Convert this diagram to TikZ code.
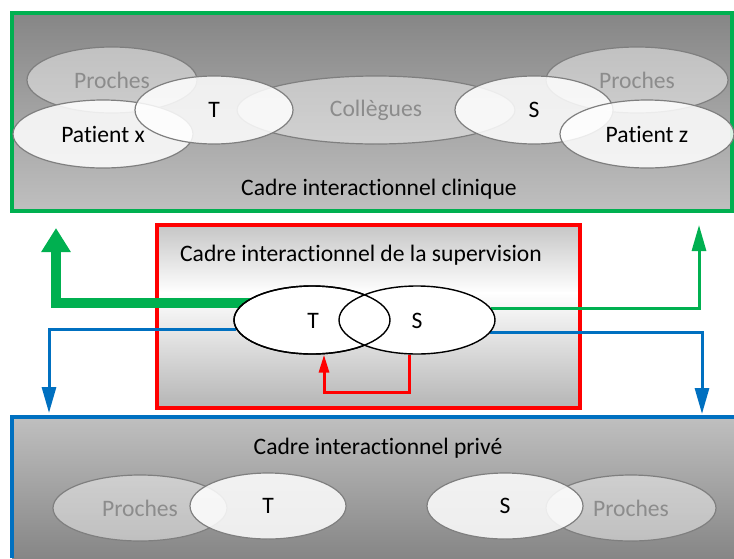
\documentclass[tikz,border=0pt]{standalone}
\usepackage{fontspec}
\setmainfont{Carlito}[Ligatures=NoCommon]
\usetikzlibrary{arrows.meta,shapes.geometric}
\definecolor{cgreen}{HTML}{00B050}
\definecolor{cred}{HTML}{FF0000}
\definecolor{cblue}{HTML}{0070C0}
\definecolor{ellgray}{HTML}{7F7F7F}
\definecolor{txtgray}{HTML}{8C8C8C}
\pgfdeclarelayer{bg}
\pgfdeclarelayer{mid}
\pgfsetlayers{bg,mid,main}
\begin{document}
\begin{tikzpicture}[x=1pt,y=-1pt,
  font=\fontsize{23.6}{28}\selectfont,
  esize/.style 2 args={minimum width=#1pt, minimum height=#2pt},
  grayell/.style={ellipse, draw=ellgray, line width=1.2pt, fill=white, fill opacity=0.45, text opacity=1, text=txtgray, inner sep=0pt},
  whiteell/.style={ellipse, draw=ellgray, line width=1.2pt, fill=white, fill opacity=0.85, text opacity=1, text=black, inner sep=0pt},
  supell/.style={ellipse, draw=black, line width=1.4pt, fill=white, inner sep=0pt},
  supline/.style={ellipse, draw=black, line width=1.4pt, inner sep=0pt},
  title/.style={anchor=base, text=black},
  thinarrow/.style={line width=3pt, -{Triangle[width=14pt,length=26pt]}},
]
\useasboundingbox (0,0) rectangle (734,558);

% ---------- frames ----------
\begin{pgfonlayer}{bg}
\shade[top color=gray!95, bottom color=gray!50] (12,13) rectangle (732,211);
\draw[cgreen, line width=3.5pt] (12,13) rectangle (732,211);
\shade[top color=gray!45, bottom color=white] (157,225) rectangle (580,293);
\shade[top color=white, bottom color=gray!58] (157,292.5) rectangle (580,408);
\draw[cred, line width=3.5pt] (157,225) rectangle (580,408);
\shade[top color=gray!50, bottom color=gray!95] (12,417) rectangle (734,558);
\draw[cblue, line width=3.5pt] (12,558) -- (12,417) -- (734,417);
\end{pgfonlayer}

% ---------- clinical frame ----------
\node[title] (tClin) at (379,195) {Cadre interactionnel clinique};
\node[grayell, esize={170}{66}] (cProL) at (112,80) {Proches};
\node[grayell, esize={182}{66}] (cProR) at (637,80) {Proches};
\node[grayell, esize={278}{68}] (cColl) at (376,110) {Collègues};
\node[whiteell, esize={180}{68}] (cPatX) at (103,134) {Patient x};
\node[whiteell, esize={158}{68}] (cT) at (214,110) {T};
\node[whiteell, esize={158}{68}] (cS) at (534,110) {S};
\node[whiteell, esize={174}{68}] (cPatZ) at (647,134) {Patient z};

% ---------- supervision frame ----------
\node[title] (tSup) at (361,261) {Cadre interactionnel de la supervision};
\node[supell, esize={156}{68}] (mT) at (312,320) {};
\node[supell, esize={156}{68}] (mS) at (417,320) {};
\node[supline, esize={156}{68}] (mTo) at (312,320) {};
\node (mTl) at (313,321) {T};
\node (mSl) at (417,321) {S};

% ---------- private frame ----------
\node[title] (tPriv) at (378,454) {Cadre interactionnel privé};
\node[grayell, esize={174}{66}] (pProL) at (140,508) {Proches};
\node[grayell, esize={170}{66}] (pProR) at (631,508) {Proches};
\node[whiteell, esize={156}{66}] (pT) at (268,506) {T};
\node[whiteell, esize={156}{66}] (pS) at (505,506) {S};

% ---------- connectors ----------
\coordinate (gA) at (56,228);
\coordinate (gB) at (699,225);
\coordinate (bA) at (49,413);
\coordinate (bB) at (702,414);
\coordinate (rC) at (324,392);
\begin{pgfonlayer}{mid}
\draw[cgreen, line width=10pt, -{Triangle[width=28pt,length=24pt]}] ([xshift=10pt]mT.166) -| (gA);
\draw[cgreen, thinarrow] (mS.9) -| (gB);
\draw[cblue, thinarrow] (mT.187) -| (bA);
\draw[cblue, thinarrow] (mS.-10) -| (bB);
\draw[cred, line width=3pt, -{Triangle[width=10pt,length=18pt]}]
  ([xshift=-8pt]mS.south) |- (rC) -- ([xshift=12pt]mT.south);
\end{pgfonlayer}
\end{tikzpicture}
\end{document}
